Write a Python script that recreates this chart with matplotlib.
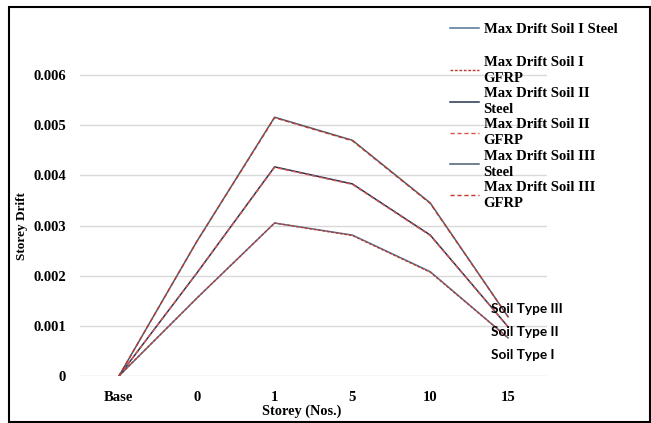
import numpy as np
import matplotlib.pyplot as plt
from matplotlib.patches import Rectangle

# storey categories
storeys = ['Base', '0', '1', '5', '10', '15']

# max storey drift
soil1_steel = [0.0, 0.00155, 0.00305, 0.00281, 0.00208, 0.00076]
soil1_gfrp = [0.0, 0.00155, 0.00305, 0.00280, 0.00207, 0.00076]
soil2_steel = [0.0, 0.00205, 0.00417, 0.00383, 0.00281, 0.00098]
soil2_gfrp = [0.0, 0.00205, 0.00416, 0.00382, 0.00280, 0.00098]
soil3_steel = [0.0, 0.00268, 0.00516, 0.00470, 0.00345, 0.00118]
soil3_gfrp = [0.0, 0.00268, 0.00515, 0.00469, 0.00344, 0.00118]

yticks = [0, 0.001, 0.002, 0.003, 0.004, 0.005, 0.006]
ytick_labels = ['0', '0.001', '0.002', '0.003', '0.004', '0.005', '0.006']

serif = 'Liberation Serif'
W, H = 651, 423

fig = plt.figure(figsize=(6.51, 4.23), dpi=100)
# axes box in pixels: left 80, right 547, bottom (y=376), top
ax = fig.add_axes([80 / W, (H - 376) / H, (547 - 80) / W, (376 - 45) / H])

x = np.arange(len(storeys))
ax.plot(x, soil1_steel, color='#4F7396', lw=1.1, label='Max Drift Soil I Steel')
ax.plot(x, soil1_gfrp, color='#C0392B', lw=1.0, ls=(0, (2, 1.2)), label='Max Drift Soil I\nGFRP')
ax.plot(x, soil2_steel, color='#26344F', lw=1.1, label='Max Drift Soil II\nSteel')
ax.plot(x, soil2_gfrp, color='#D9534F', lw=1.0, ls=(0, (3, 2)), label='Max Drift Soil II\nGFRP')
ax.plot(x, soil3_steel, color='#4A5F74', lw=1.1, label='Max Drift Soil III\nSteel')
ax.plot(x, soil3_gfrp, color='#C0392B', lw=1.0, ls=(0, (3, 2)), label='Max Drift Soil III\nGFRP')

ax.set_xlim(-0.5, 5.5)
ax.set_ylim(0, 0.0066)
ax.set_yticks(yticks)
ax.set_yticklabels(ytick_labels)
ax.set_xticks(x)
ax.set_xticklabels(storeys)
ax.grid(axis='y', color='#D9D9D9', lw=1)
ax.set_axisbelow(True)
for s in ax.spines.values():
    s.set_visible(False)
ax.tick_params(length=0)
ax.tick_params(axis='y', pad=10)
ax.tick_params(axis='x', pad=11)
for lab in ax.get_xticklabels() + ax.get_yticklabels():
    lab.set_fontfamily(serif)
    lab.set_fontweight('bold')
    lab.set_fontsize(10.5)

fig.text(22 / W, 1 - 226 / H, 'Storey Drift', rotation=90, ha='center', va='center',
         fontfamily=serif, fontweight='bold', fontsize=9.5)
fig.text(302 / W, 1 - 411 / H, 'Storey (Nos.)', ha='center', va='center',
         fontfamily=serif, fontweight='bold', fontsize=10.3)

# legend: first entry on its own, then the wrapped ones below
handles, labels = ax.get_legend_handles_labels()
leg_kw = dict(loc='upper left', frameon=False,
              prop={'family': serif, 'weight': 'bold', 'size': 10.5},
              handlelength=2.0, handletextpad=0.3, labelspacing=0.15,
              borderpad=0, borderaxespad=0)
leg1 = fig.legend(handles[:1], labels[:1], bbox_to_anchor=(450 / W, 1 - 23 / H), **leg_kw)
leg2 = fig.legend(handles[1:], labels[1:], bbox_to_anchor=(450 / W, 1 - 56 / H), **leg_kw)
for t in leg2.get_texts():
    t.set_linespacing(1.3)

for label, ypix in [('Soil Type III', 309), ('Soil Type II', 332), ('Soil Type I', 355)]:
    fig.text(491 / W, 1 - ypix / H, label, ha='left', va='center',
             fontfamily='Lato', fontweight='bold', fontsize=9.8)

# outer chart border
fig.patches.append(Rectangle((9 / W, 1.5 / H), (W - 10.5) / W, (H - 8.5) / H,
                             transform=fig.transFigure, fill=False,
                             edgecolor='black', lw=1.5))

fig.savefig('out.png', dpi=100)
